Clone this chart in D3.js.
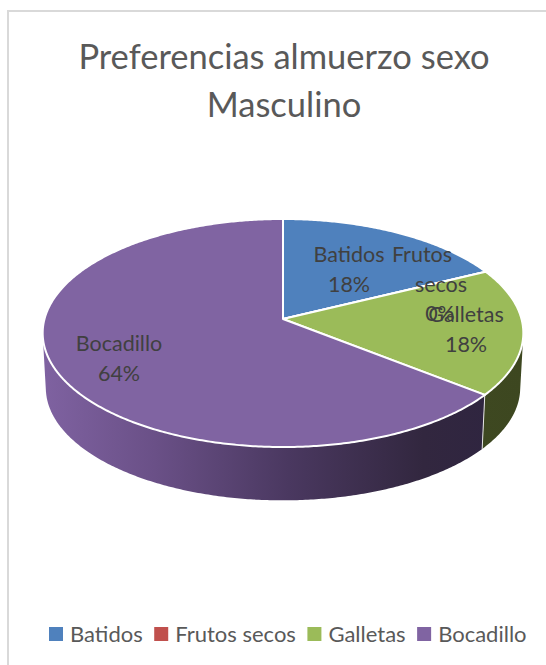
<!DOCTYPE html>
<html lang="es">
<head>
<meta charset="utf-8">
<title>Preferencias almuerzo sexo Masculino</title>
<script src="https://cdn.jsdelivr.net/npm/d3@7"></script>
<style>
  html, body { margin: 0; padding: 0; background: #fff; }
  svg { display: block; }
  text { font-family: Lato, "Open Sans", sans-serif; }
</style>
</head>
<body>
<svg id="chart" width="546" height="665"></svg>
<script>
const categories = ["Batidos", "Frutos secos", "Galletas", "Bocadillo"];
const percentages = [18, 0, 18, 64];
const sliceColors = ["#4f81bd", "#c0504d", "#9bbb59", "#8064a2"];
const titleLines = ["Preferencias almuerzo sexo", "Masculino"];
// Each data label is a stack of lines; the last line is the percentage.
const labelLines = [["Batidos"], ["Frutos", "secos"], ["Galletas"], ["Bocadillo"]];

const svg = d3.select("#chart");
const defs = svg.append("defs");

// Chart frame: the right and bottom edges run off the page.
svg.append("rect")
  .attr("x", 8).attr("y", 11).attr("width", 600).attr("height", 700)
  .attr("fill", "#fff").attr("stroke", "#d9d9d9").attr("stroke-width", 2);

// Title
svg.append("g").selectAll("text").data(titleLines).join("text")
  .attr("x", 284)
  .attr("y", (d, i) => 69 + i * 48)
  .attr("text-anchor", "middle")
  .attr("font-size", 34.5)
  .attr("fill", "#595959")
  .text(d => d);

// Tilted disc: a circle seen in perspective, so the hub sits above the
// middle of the visible ellipse.
const hub = { x: 283, y: 319 };
const lens = 0.1228;
const skew = 0.022; // foreshortening of the angles on the near-right side
const scaleX = d3.scaleLinear().domain([-1, 1]).range([-238.5, 238.5]);
const scaleZ = d3.scaleLinear().domain([-1, 1]).range([112.3, -112.3]);
const depth = d3.scaleLinear().domain([0, 1]).range([0, 55]);
const shrink = d3.scaleLinear().domain([0, 1]).range([1, 0.987]);

function project(angle, radius, level) {
  const bent = angle - skew * Math.sin(angle);
  const sx = radius * Math.sin(bent), sz = radius * Math.cos(bent);
  const w = 1 + lens * sz;
  return [
    hub.x + scaleX(sx / w) * shrink(level),
    hub.y + scaleZ(sz / w) * shrink(level) + depth(level)
  ];
}

const pieLayout = d3.pie().sort(null).value(d => d)(percentages);
const line = d3.line();
const arcAngles = (a0, a1) => {
  const n = Math.max(2, Math.ceil((a1 - a0) / 0.01));
  return d3.range(n + 1).map(i => a0 + (a1 - a0) * i / n);
};

// Side wall shading runs left to right across the disc.
const wallShades = [
  ["wall-3", [["0%", "#7f62a1"], ["25%", "#6a5087"], ["55%", "#4a3860"], ["85%", "#32273f"], ["100%", "#2f2540"]]],
  ["wall-2", [["0%", "#46522a"], ["100%", "#3d4720"]]],
  ["wall-0", [["0%", "#2f4d72"], ["100%", "#2f4d72"]]],
  ["wall-1", [["0%", "#7a2f2d"], ["100%", "#7a2f2d"]]]
];
wallShades.forEach(([id, stops]) => {
  const g = defs.append("linearGradient").attr("id", id)
    .attr("gradientUnits", "userSpaceOnUse")
    .attr("x1", 43).attr("x2", id === "wall-3" ? 490 : 523).attr("y1", 0).attr("y2", 0);
  stops.forEach(([o, c]) => g.append("stop").attr("offset", o).attr("stop-color", c));
});

const discGroup = svg.append("g");

// A wall is a run of small quads joining the upper rim to the lower rim.
// All quads share one winding so the silhouette at the sides stays filled.
function wallPath(d) {
  const angles = arcAngles(d.startAngle, d.endAngle);
  return d3.pairs(angles).map(([a, b]) => {
    const quad = [project(a, 1, 0), project(b, 1, 0), project(b, 1, 1), project(a, 1, 1)];
    if (d3.polygonArea(quad) < 0) quad.reverse();
    return line(quad) + "Z";
  }).join("");
}

// Walls first; the top faces cover whatever faces away from the viewer.
discGroup.selectAll("path.wall").data(pieLayout).join("path")
  .attr("class", "wall")
  .attr("d", wallPath)
  .attr("fill", d => `url(#wall-${d.index})`);

// Thin light seam where the two front walls meet.
const seamSlice = pieLayout[2];
discGroup.append("path")
  .attr("d", line([project(seamSlice.endAngle, 1, 0), project(seamSlice.endAngle, 1, 1)]))
  .attr("stroke", "#e4e4e4")
  .attr("stroke-width", 1)
  .attr("fill", "none");

discGroup.selectAll("path.face").data(pieLayout).join("path")
  .attr("class", "face")
  .attr("d", d => {
    const rim = arcAngles(d.startAngle, d.endAngle).map(a => project(a, 1, 0));
    return line([[hub.x, hub.y]].concat(rim)) + "Z";
  })
  .attr("fill", d => sliceColors[d.index])
  .attr("stroke", "#fff")
  .attr("stroke-width", 2)
  .attr("stroke-linejoin", "round");

// Data labels: name lines followed by the percentage. Each row has its own
// centre because the wrapped "Frutos secos" label does not stack evenly.
const labelCentres = [[349, 349], [422, 441, 440], [466, 466], [119, 119]];
const labelTops = [262, 262, 322, 351];
const labelGroup = svg.append("g");
categories.forEach((c, i) => {
  const rows = labelLines[i].concat(percentages[i] + "%");
  labelGroup.append("g").selectAll("text").data(rows).join("text")
    .attr("x", (d, k) => labelCentres[i][k])
    .attr("y", (d, k) => labelTops[i] + k * 29.5)
    .attr("text-anchor", "middle")
    .attr("font-size", 21.5)
    .attr("fill", "#404040")
    .text(d => d);
});

// Legend along the bottom, spaced from the measured label widths.
const legend = svg.append("g");
let cursor = 49;
categories.forEach((c, i) => {
  legend.append("rect")
    .attr("x", cursor).attr("y", 627).attr("width", 14).attr("height", 14)
    .attr("fill", sliceColors[i]);
  const t = legend.append("text")
    .attr("x", cursor + 21).attr("y", 642)
    .attr("font-size", 22)
    .attr("fill", "#595959")
    .text(c);
  cursor += 21 + t.node().getComputedTextLength() + 11.5;
});
</script>
</body>
</html>
